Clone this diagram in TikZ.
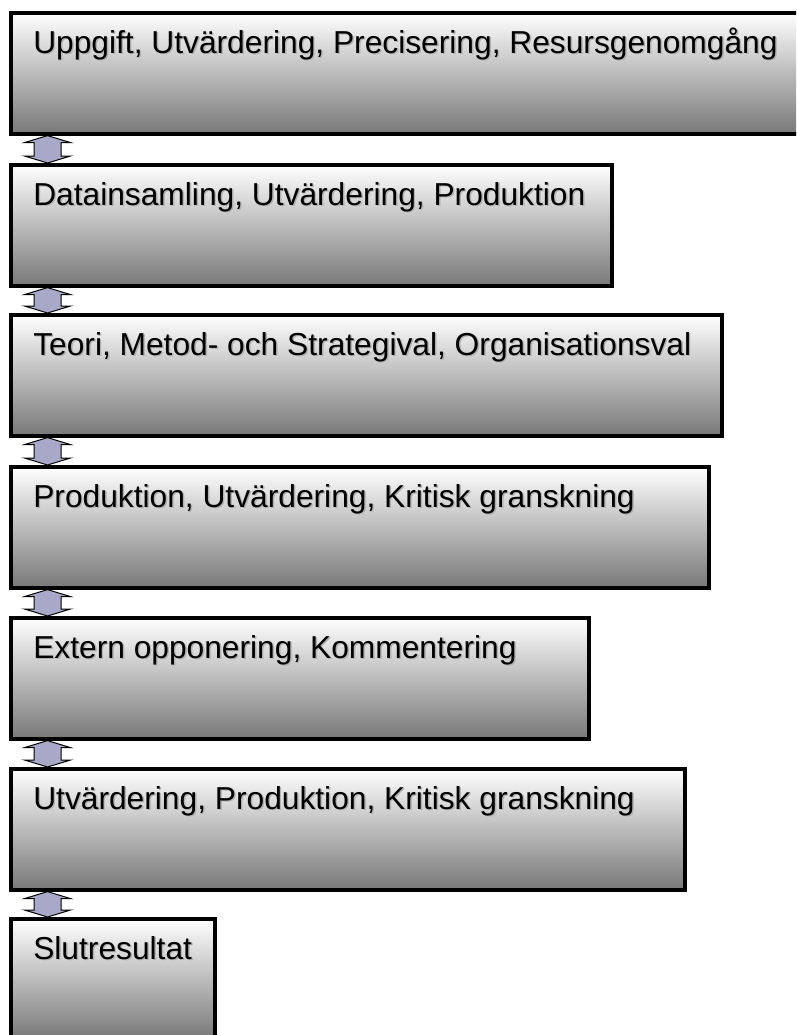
\documentclass[tikz,border=0pt]{standalone}
\usepackage{fontspec}
\setmainfont{Liberation Sans}
\usepackage{tikz}
\usetikzlibrary{
  calc,
  positioning
}
\definecolor{linkfill}{RGB}{168,168,200}
\newcommand{\px}{0.75pt}
\newcommand{\shadowed}[1]{%
  \rlap{\hspace{1.1pt}\raisebox{-1.1pt}{\textcolor{black!30}{#1}}}#1%
}
\tikzset{
  stage/.style={
    rectangle,
    draw=black,
    line width=3.6*\px,
    top color=white,
    bottom color=black!53,
    minimum height=121*\px,
    inner sep=0pt,
    anchor=north west
  }
}
\tikzset{
  stage text/.style={
    anchor=base west,
    inner sep=0pt,
    font=\fontsize{23.8}{28}\selectfont
  }
}
\tikzset{
  link/.style={
    draw=black,
    fill=linkfill,
    line width=1*\px,
    line join=miter
  }
}
\newcommand{\linkarrow}[2]{%
  \coordinate (#1-out) at ($(#1.south west)+(38.5,0)$);
  \coordinate (#2-in) at ($(#2.north west)+(38.5,0)$);
  \draw[link]
    (#1-out) -- ++(23,7) -- ++(-9.5,0)
    -- ($(#2-in)+(13.5,-7)$) -- ++(9.5,0)
    -- (#2-in) -- ++(-23,-7) -- ++(9.5,0)
    -- ($(#1-out)+(-13.5,7)$) -- ++(-9.5,0)
    -- cycle;
}
\begin{document}
\begin{tikzpicture}[x=0.75pt,y=-0.75pt]

    \useasboundingbox (0,0) rectangle (796,1035);
    \clip (0,0) rectangle (796,1035);

    % ------------------------------------------------------------
    % Stages
    % ------------------------------------------------------------

    \node[stage,minimum width=790*\px] (S1) at (9,11) {};
    \node[stage,minimum width=601*\px] (S2) at (9,163) {};
    \node[stage,minimum width=711*\px] (S3) at (9,313) {};
    \node[stage,minimum width=698*\px] (S4) at (9,465) {};
    \node[stage,minimum width=578*\px] (S5) at (9,616) {};
    \node[stage,minimum width=674*\px] (S6) at (9,767) {};
    \node[stage,minimum width=204*\px] (S7) at (9,917) {};

    \node[stage text] (T1) at ($(S1.north west)+(24,42.5)$)
      {\shadowed{Uppgift, Utvärdering, Precisering, Resursgenomgång}};
    \node[stage text] (T2) at ($(S2.north west)+(24,42.5)$)
      {\shadowed{Datainsamling, Utvärdering, Produktion}};
    \node[stage text] (T3) at ($(S3.north west)+(24,42.5)$)
      {\shadowed{Teori, Metod- och Strategival, Organisationsval}};
    \node[stage text] (T4) at ($(S4.north west)+(24,42.5)$)
      {\shadowed{Produktion, Utvärdering, Kritisk granskning}};
    \node[stage text] (T5) at ($(S5.north west)+(24,42.5)$)
      {\shadowed{Extern opponering, Kommentering}};
    \node[stage text] (T6) at ($(S6.north west)+(24,42.5)$)
      {\shadowed{Utvärdering, Produktion, Kritisk granskning}};
    \node[stage text] (T7) at ($(S7.north west)+(24,42.5)$)
      {\shadowed{Slutresultat}};

    % ------------------------------------------------------------
    % Links
    % ------------------------------------------------------------

    \linkarrow{S1}{S2}
    \linkarrow{S2}{S3}
    \linkarrow{S3}{S4}
    \linkarrow{S4}{S5}
    \linkarrow{S5}{S6}
    \linkarrow{S6}{S7}

    \end{tikzpicture}
\end{document}
